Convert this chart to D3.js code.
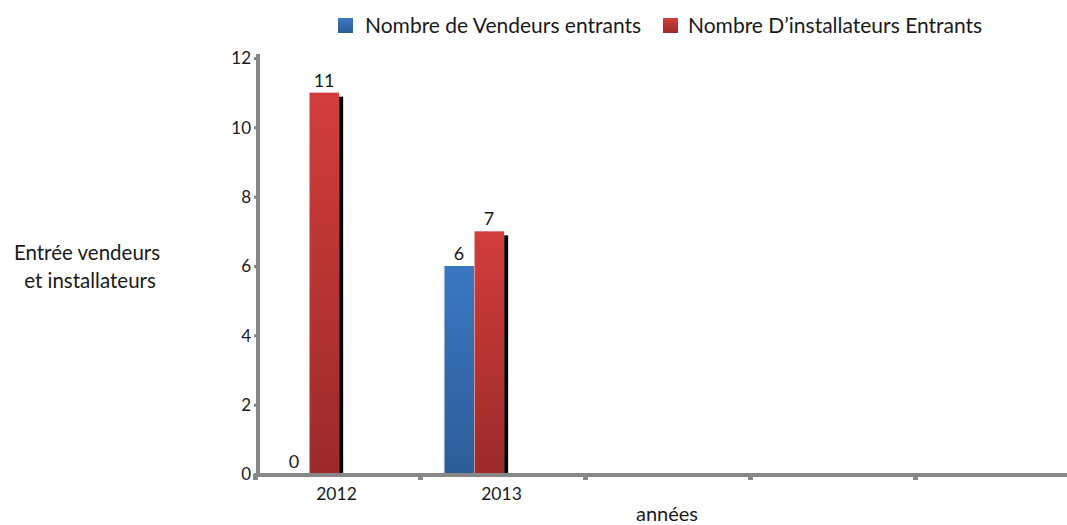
<!doctype html>
<html>
  <head>
    <style>
      body { margin: 0; background: #fff; }
      text { font-family: Lato, 'Open Sans', sans-serif; fill: #1a1a1a; }
    </style>
  </head>
  <body>
    <svg width="1067" height="525" id="chart"></svg>

    <script src="https://cdnjs.cloudflare.com/ajax/libs/d3/7.8.5/d3.min.js"></script>
    <script>
      // data
      const years = ['2012', '2013', '', '', '']
      const seriesNames = ['Nombre de Vendeurs entrants', 'Nombre D\u2019installateurs Entrants']
      const vendeurs = [0, 6, null, null, null]
      const installateurs = [11, 7, null, null, null]
      const yTicks = [0, 2, 4, 6, 8, 10, 12]

      const svg = d3.select('#chart')
      const margin = {left: 258, right: -13, top: 58, bottom: 51}
      const width = 1067 - margin.left - margin.right
      const height = 525 - margin.top - margin.bottom

      const colors = [
        {top: '#3b77c2', bottom: '#2c5d98'},
        {top: '#d23d3b', bottom: '#9c2a2a'}
      ]

      const defs = svg.append('defs')
      colors.forEach((c, i) => {
        const g = defs.append('linearGradient')
          .attr('id', `grad${i}`)
          .attr('x1', 0).attr('y1', 0).attr('x2', 0).attr('y2', 1)
        g.append('stop').attr('offset', '0%').attr('stop-color', c.top)
        g.append('stop').attr('offset', '100%').attr('stop-color', c.bottom)
      })

      const g = svg.append('g').attr('transform', `translate(${margin.left},${margin.top})`)

      const x0 = d3.scaleBand()
        .domain(d3.range(years.length))
        .range([-3, width])
      const x1 = d3.scaleBand()
        .domain(d3.range(seriesNames.length))
        .range([x0.bandwidth() * 0.145, x0.bandwidth() * 0.51])
      const y = d3.scaleLinear().domain([0, 12]).range([height, 0])

      const rows = years.map((yr, i) => ({i, values: [vendeurs[i], installateurs[i]]}))

      // bars
      const groups = g.selectAll('.grp')
        .data(rows)
        .enter().append('g')
        .attr('class', 'grp')
        .attr('transform', d => `translate(${x0(d.i)},0)`)

      const cells = groups.selectAll('.cell')
        .data(d => d.values.map((v, s) => ({v, s})).filter(d => d.v !== null))
        .enter().append('g')
        .attr('class', 'cell')

      // black shadow on the right side
      cells.filter(d => d.v > 0).append('rect')
        .attr('x', d => x1(d.s) + x1.bandwidth())
        .attr('y', d => y(d.v) + 4)
        .attr('width', 4)
        .attr('height', d => height - y(d.v) - 4)
        .style('fill', '#000')

      cells.filter(d => d.v > 0).append('rect')
        .attr('x', d => x1(d.s))
        .attr('y', d => y(d.v))
        .attr('width', x1.bandwidth())
        .attr('height', d => height - y(d.v))
        .style('fill', d => `url(#grad${d.s})`)

      // light left edge
      cells.filter(d => d.v > 0).append('rect')
        .attr('x', d => x1(d.s))
        .attr('y', d => y(d.v))
        .attr('width', 1)
        .attr('height', d => height - y(d.v))
        .style('fill', '#fff')
        .style('opacity', 0.5)

      cells.append('text')
        .attr('x', d => x1(d.s) + x1.bandwidth() / 2)
        .attr('y', d => y(d.v) - 6)
        .attr('text-anchor', 'middle')
        .style('font-size', '18px')
        .text(d => d.v)

      // axes
      const axisColor = '#878787'
      const yAxis = g.append('g')
        .call(d3.axisLeft(y).tickValues(yTicks).tickSize(4).tickPadding(3))
      yAxis.select('.domain').remove()
      yAxis.selectAll('.tick line').attr('stroke', axisColor).attr('stroke-width', 3)
      yAxis.selectAll('.tick text').style('font-size', '17px').attr('dy', '0.35em')
      g.append('line')
        .attr('x1', 0).attr('x2', 0)
        .attr('y1', y(12) - 4).attr('y2', height + 1)
        .attr('stroke', axisColor).attr('stroke-width', 4)

      // category ticks at band edges
      const edges = d3.range(years.length + 1).map(i => i < years.length ? x0(i) : x0(i - 1) + x0.step())
      g.selectAll('.xtick')
        .data(edges)
        .enter().append('rect')
        .attr('x', d => d - 2)
        .attr('y', height)
        .attr('width', 5)
        .attr('height', 6)
        .style('fill', axisColor)
      g.append('line')
        .attr('x1', -3).attr('x2', width)
        .attr('y1', height + 1).attr('y2', height + 1)
        .attr('stroke', axisColor).attr('stroke-width', 4)

      g.selectAll('.xlabel')
        .data(years)
        .enter().append('text')
        .attr('x', (d, i) => x0(i) + x0.bandwidth() / 2 - 1)
        .attr('y', height + 26)
        .attr('text-anchor', 'middle')
        .style('font-size', '17.5px')
        .text(d => d)

      // axis titles
      svg.append('text')
        .attr('x', 667).attr('y', 521)
        .attr('text-anchor', 'middle')
        .style('font-size', '20px')
        .text('années')

      const yTitle = svg.append('text')
        .attr('text-anchor', 'middle')
        .style('font-size', '20.5px')
      yTitle.append('tspan').attr('x', 87).attr('y', 260).text('Entrée vendeurs')
      yTitle.append('tspan').attr('x', 90).attr('y', 288).text('et installateurs')

      // legend
      const legendX = [338, 663]
      const legendGap = [27, 25]
      const legend = svg.selectAll('.legend')
        .data(seriesNames)
        .enter().append('g')
        .attr('transform', (d, i) => `translate(${legendX[i]},18)`)
      legend.append('rect')
        .attr('width', 15).attr('height', 15)
        .style('fill', (d, i) => `url(#grad${i})`)
      legend.append('text')
        .attr('x', (d, i) => legendGap[i]).attr('y', 15)
        .style('font-size', '21px')
        .text(d => d)
    </script>
  </body>
</html>
